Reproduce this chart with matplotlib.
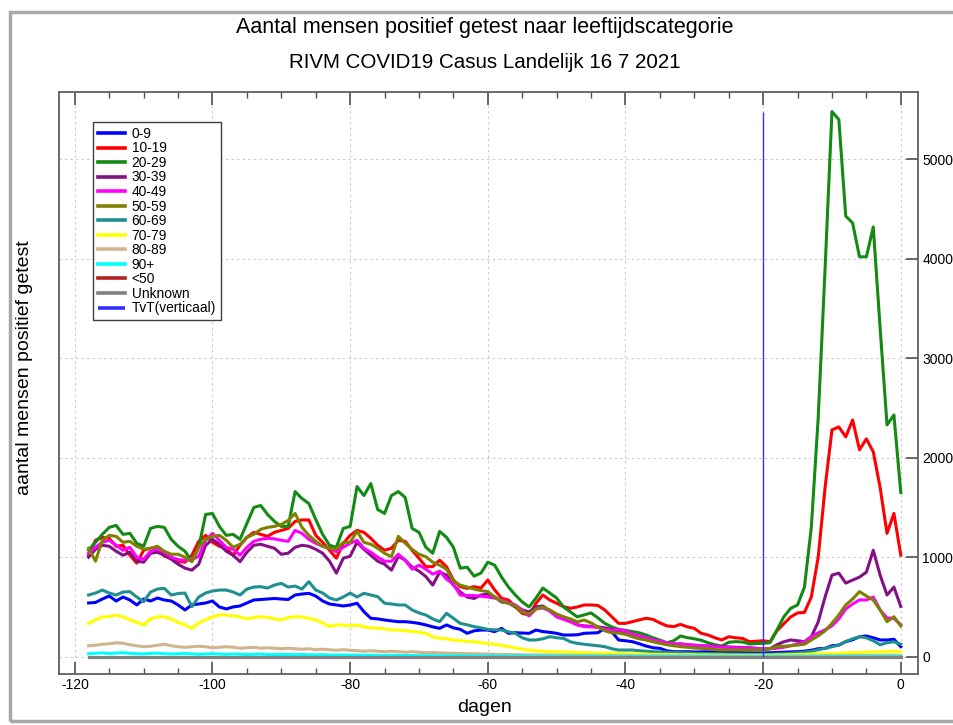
import matplotlib
matplotlib.use("Agg")
import matplotlib.pyplot as plt
from matplotlib.patches import Rectangle
from matplotlib.ticker import MultipleLocator

plt.rcParams['font.family'] = ['Liberation Sans', 'DejaVu Sans']
plt.rcParams['axes.unicode_minus'] = False

# dagen t.o.v. 16 7 2021
days = list(range(-118, 1))

age_0_9 = [540, 545, 580, 610, 560, 600, 570, 520, 580, 560,
           590, 570, 560, 520, 470, 520, 530, 540, 560, 500,
           480, 500, 510, 540, 570, 575, 580, 585, 580, 575,
           620, 630, 637, 610, 560, 530, 520, 510, 520, 537,
           453, 386, 380, 369, 360, 352, 352, 345, 335, 319,
           300, 285, 319, 290, 275, 235, 260, 268, 268, 252,
           285, 235, 241, 238, 235, 268, 252, 245, 235, 218,
           218, 220, 235, 238, 241, 285, 252, 168, 160, 151,
           130, 107, 90, 84, 60, 50, 50, 50, 48, 48,
           50, 45, 45, 42, 42, 40, 40, 38, 38, 40,
           42, 45, 48, 50, 55, 65, 80, 84, 110, 117,
           151, 170, 201, 208, 190, 168, 168, 175, 101]

age_10_19 = [1020, 1170, 1200, 1190, 1110, 1120, 1020, 940, 1070, 1090,
             1100, 1010, 990, 960, 950, 1020, 1160, 1220, 1150, 1110,
             1090, 1020, 1120, 1200, 1250, 1230, 1210, 1250, 1270, 1290,
             1360, 1375, 1375, 1220, 1150, 1070, 990, 1140, 1220, 1270,
             1250, 1190, 1120, 1070, 1090, 1170, 1160, 1070, 990, 905,
             905, 970, 905, 770, 704, 687, 704, 690, 771, 671,
             587, 570, 503, 436, 419, 537, 620, 570, 537, 503,
             486, 500, 520, 520, 515, 470, 402, 335, 335, 352,
             370, 386, 375, 340, 310, 302, 325, 300, 285, 235,
             218, 190, 168, 201, 190, 184, 151, 155, 161, 150,
             260, 330, 400, 440, 445, 600, 1000, 1700, 2280, 2310,
             2210, 2380, 2080, 2190, 2060, 1700, 1240, 1440, 1020]

age_20_29 = [1070, 1150, 1230, 1300, 1320, 1230, 1240, 1140, 1110, 1290,
             1310, 1300, 1180, 1110, 1060, 960, 1100, 1430, 1440, 1310,
             1220, 1230, 1180, 1340, 1500, 1520, 1430, 1360, 1310, 1310,
             1660, 1590, 1540, 1380, 1230, 1120, 1100, 1290, 1310, 1710,
             1620, 1740, 1480, 1440, 1620, 1660, 1600, 1290, 1250, 1100,
             1040, 1260, 1200, 1100, 890, 900, 810, 840, 950, 920,
             800, 700, 620, 550, 500, 590, 690, 640, 590, 500,
             450, 400, 420, 440, 390, 335, 300, 275, 265, 252,
             240, 218, 190, 168, 140, 160, 208, 191, 180, 165,
             140, 120, 107, 145, 151, 148, 128, 132, 134, 141,
             268, 400, 486, 520, 700, 1300, 2400, 3900, 5480, 5400,
             4430, 4360, 4020, 4020, 4320, 3300, 2330, 2430, 1650]

age_30_39 = [1000, 1080, 1120, 1110, 1060, 1020, 1050, 960, 950, 1040,
             1050, 1020, 980, 930, 890, 870, 930, 1120, 1180, 1130,
             1060, 1020, 955, 1050, 1120, 1130, 1110, 1090, 1030, 1040,
             1100, 1120, 1110, 1080, 1040, 960, 840, 990, 1010, 1150,
             1080, 1020, 960, 930, 870, 1010, 970, 900, 860, 805,
             720, 850, 820, 720, 650, 600, 585, 620, 630, 600,
             550, 540, 500, 470, 450, 500, 510, 460, 410, 390,
             360, 320, 310, 305, 300, 290, 275, 250, 230, 210,
             200, 180, 160, 150, 130, 125, 130, 120, 115, 110,
             108, 105, 100, 98, 95, 92, 90, 85, 75, 80,
             120, 150, 168, 160, 151, 200, 350, 600, 820, 840,
             740, 770, 800, 850, 1070, 820, 620, 700, 505]

age_40_49 = [1040, 1100, 1150, 1170, 1120, 1070, 1100, 1000, 980, 1060,
             1080, 1050, 1000, 975, 970, 975, 1010, 1170, 1240, 1170,
             1100, 1080, 1020, 1100, 1160, 1180, 1190, 1185, 1170, 1160,
             1270, 1240, 1180, 1140, 1110, 1090, 1055, 1100, 1140, 1170,
             1090, 1050, 1000, 960, 960, 1030, 970, 880, 920, 880,
             830, 860, 780, 730, 620, 615, 615, 608, 600, 590,
             570, 545, 520, 470, 410, 480, 490, 460, 400, 375,
             350, 320, 302, 300, 295, 275, 268, 272, 260, 225,
             210, 190, 170, 155, 140, 130, 125, 120, 115, 110,
             105, 100, 95, 92, 90, 88, 85, 82, 80, 80,
             85, 95, 110, 130, 150, 200, 240, 270, 310, 380,
             480, 530, 570, 570, 600, 470, 390, 385, 320]

age_50_59 = [1090, 960, 1170, 1220, 1210, 1150, 1160, 1110, 1080, 1090,
             1110, 1060, 1030, 1030, 1000, 955, 1100, 1180, 1210, 1220,
             1170, 1100, 1130, 1200, 1230, 1280, 1300, 1310, 1330, 1370,
             1440, 1300, 1220, 1160, 1110, 1090, 1080, 1150, 1150, 1260,
             1150, 1130, 1090, 1040, 1005, 1210, 1140, 1080, 1030, 1005,
             950, 920, 880, 760, 720, 700, 680, 665, 654, 600,
             560, 537, 510, 450, 430, 480, 500, 470, 430, 402,
             380, 350, 369, 340, 300, 260, 240, 238, 225, 200,
             180, 168, 150, 134, 120, 110, 101, 95, 88, 84,
             78, 72, 67, 67, 67, 67, 67, 67, 67, 80,
             101, 105, 110, 117, 125, 168, 210, 260, 335, 420,
             520, 580, 654, 610, 570, 470, 352, 402, 309]

age_60_69 = [620, 640, 670, 640, 620, 650, 654, 600, 553, 650,
             680, 687, 620, 635, 640, 503, 600, 640, 660, 670,
             670, 650, 620, 680, 700, 704, 690, 720, 737, 700,
             710, 680, 754, 670, 640, 590, 570, 600, 640, 600,
             637, 620, 604, 537, 530, 520, 520, 470, 440, 419,
             380, 352, 436, 386, 335, 320, 302, 290, 275, 270,
             268, 250, 235, 190, 168, 168, 180, 201, 190, 184,
             150, 134, 125, 117, 110, 101, 80, 67, 67, 67,
             60, 55, 50, 48, 45, 42, 40, 38, 35, 33,
             30, 30, 28, 27, 26, 25, 25, 24, 24, 25,
             28, 30, 35, 40, 45, 55, 70, 84, 100, 117,
             151, 180, 201, 190, 160, 120, 140, 150, 125]

age_70_79 = [335, 370, 400, 402, 419, 400, 370, 345, 319, 380,
             400, 402, 380, 345, 320, 285, 340, 370, 400, 420,
             419, 410, 400, 380, 395, 402, 395, 380, 370, 395,
             402, 400, 385, 370, 340, 302, 320, 319, 310, 319,
             300, 290, 285, 280, 270, 268, 260, 255, 245, 235,
             200, 185, 180, 168, 160, 155, 151, 140, 134, 125,
             115, 101, 90, 75, 67, 60, 55, 50, 50, 48,
             45, 42, 40, 38, 36, 35, 34, 32, 30, 28,
             26, 25, 24, 23, 22, 21, 20, 20, 19, 18,
             18, 17, 17, 16, 16, 15, 15, 15, 15, 16,
             17, 18, 20, 22, 24, 26, 28, 30, 33, 35,
             38, 40, 42, 45, 48, 50, 52, 55, 50]

age_80_89 = [110, 115, 125, 130, 140, 135, 120, 110, 100, 105,
             115, 125, 110, 100, 95, 100, 105, 100, 90, 95,
             100, 95, 85, 90, 95, 85, 90, 85, 80, 85,
             80, 75, 80, 70, 75, 70, 65, 70, 65, 60,
             55, 60, 55, 50, 55, 50, 45, 50, 45, 40,
             42, 38, 35, 35, 32, 30, 30, 28, 25, 24,
             22, 22, 20, 20, 18, 18, 17, 17, 16, 15,
             15, 14, 14, 13, 13, 12, 12, 12, 11, 11,
             10, 10, 10, 10, 9, 9, 9, 9, 8, 8,
             8, 8, 8, 8, 7, 7, 7, 7, 7, 7,
             7, 7, 8, 8, 8, 9, 9, 10, 10, 11,
             12, 12, 13, 13, 14, 14, 15, 15, 12]

age_90plus = [30, 35, 38, 32, 36, 40, 34, 30, 28, 33,
              36, 30, 27, 29, 32, 28, 25, 27, 30, 26,
              24, 27, 25, 22, 24, 26, 22, 20, 23, 21,
              20, 22, 19, 18, 20, 17, 16, 18, 15, 16,
              14, 15, 13, 12, 14, 12, 11, 12, 10, 11,
              10, 9, 10, 8, 9, 8, 7, 8, 7, 6,
              6, 6, 5, 5, 5, 4, 4, 4, 4, 3,
              3, 3, 3, 3, 3, 3, 2, 2, 2, 2,
              2, 2, 2, 2, 2, 2, 2, 2, 2, 2,
              1, 1, 1, 1, 1, 1, 1, 1, 1, 1,
              1, 1, 1, 1, 1, 1, 1, 2, 2, 2,
              2, 2, 2, 2, 2, 2, 2, 2, 2]

under_50 = [0] * len(days)
unknown = [0] * len(days)

tvt_day = -20

labels = ['0-9', '10-19', '20-29', '30-39', '40-49', '50-59', '60-69',
          '70-79', '80-89', '90+', '<50', 'Unknown']
series = [age_0_9, age_10_19, age_20_29, age_30_39, age_40_49, age_50_59,
          age_60_69, age_70_79, age_80_89, age_90plus, under_50, unknown]
colors = ['#0000ff', '#ff0000', '#138a13', '#851085', '#ff00ff', '#808000',
          '#1f8f8f', '#ffff00', '#d2b48c', '#00ffff', '#b22222', '#808080']

fig = plt.figure(figsize=(9.54, 7.25), dpi=100)
ax = fig.add_axes([59 / 954, 51 / 725, 859 / 954, 582 / 725])

for vals, lab, col in zip(series, labels, colors):
    ax.plot(days, vals, color=col, lw=2.2, label=lab)

ax.vlines(tvt_day, 0, max(age_20_29), color='#3030ff', lw=1.0,
          label='TvT(verticaal)')

ax.set_xlim(-122.3, 2.5)
ax.set_ylim(-174, 5677)
ax.xaxis.set_major_locator(MultipleLocator(20))
ax.xaxis.set_minor_locator(MultipleLocator(5))
ax.yaxis.set_major_locator(MultipleLocator(1000))

ax.tick_params(axis='x', which='both', direction='in', top=True, bottom=True,
               color='#505050', labelsize=10, pad=3)
ax.tick_params(axis='x', which='major', length=9, width=1.2)
ax.tick_params(axis='x', which='minor', length=4.5, width=1.0)
ax.tick_params(axis='y', which='major', direction='in', left=False,
               right=True, labelleft=False, labelright=True, length=9,
               width=1.2, color='#505050', labelsize=10, pad=3)

ax.grid(True, which='major', color='#c8c8c8', lw=0.8, linestyle=(0, (2, 3)))
for sp in ax.spines.values():
    sp.set_color('#606060')
    sp.set_linewidth(1.3)

leg = ax.legend(loc='upper left', bbox_to_anchor=(0.0396, 0.9485),
                borderaxespad=0, fontsize=9.9, labelspacing=0.04,
                handlelength=2.0, handletextpad=0.45, borderpad=0.35,
                fancybox=False, framealpha=1, edgecolor='#404040')
leg.get_frame().set_linewidth(1.0)
for h in leg.legend_handles:
    h.set_linewidth(2.6)

fig.text(0.508, 1 - 28 / 725, 'Aantal mensen positief getest naar leeftijdscategorie',
         ha='center', va='center', fontsize=15.5)
fig.text(0.508, 1 - 63 / 725, 'RIVM COVID19 Casus Landelijk 16 7 2021',
         ha='center', va='center', fontsize=14.8)
fig.text(485 / 954, 1 - 708 / 725, 'dagen', ha='center', va='center', fontsize=14)
fig.text(25 / 954, 1 - 368 / 725, 'aantal mensen positief getest', ha='center',
         va='center', rotation=90, fontsize=14)

# kader om de hele afbeelding
fig.patches.append(Rectangle((10 / 954, 4 / 725), 1.0, 709 / 725,
                             transform=fig.transFigure, fill=False,
                             edgecolor='#a8a8a8', lw=2.5))

fig.savefig('out.png', dpi=100)
